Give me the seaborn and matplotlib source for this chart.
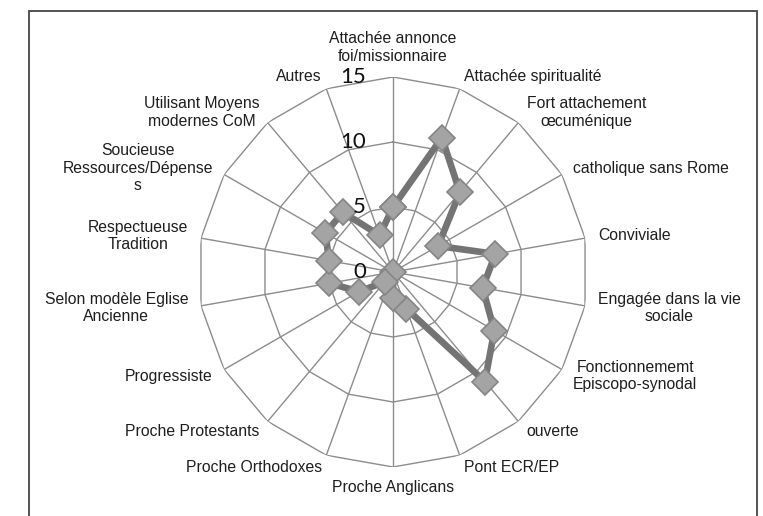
import numpy as np
import matplotlib
matplotlib.use("Agg")
import matplotlib.pyplot as plt
import matplotlib.transforms as mtransforms
from matplotlib.patches import Rectangle
import pandas as pd
import seaborn as sns

categories = [
    "Attachée annonce\nfoi/missionnaire",
    "Attachée spiritualité",
    "Fort attachement\nœcuménique",
    "catholique sans Rome",
    "Conviviale",
    "Engagée dans la vie\nsociale",
    "Fonctionnememt\nEpiscopo-synodal",
    "ouverte",
    "Pont ECR/EP",
    "Proche Anglicans",
    "Proche Orthodoxes",
    "Proche Protestants",
    "Progressiste",
    "Selon modèle Eglise\nAncienne",
    "Respectueuse\nTradition",
    "Soucieuse\nRessources/Dépense\ns",
    "Utilisant Moyens\nmodernes CoM",
    "Autres",
]
values = [5, 11, 8, 4, 8, 7, 9, 11, 3, 2, 0, 1, 3, 5, 5, 6, 6, 3]
r_ticks = [0, 5, 10, 15]

sns.set_style("white")
plt.rcParams["font.family"] = ["Liberation Sans", "DejaVu Sans"]

n = len(categories)
angles = np.linspace(0, 2 * np.pi, n, endpoint=False)
closed_angles = np.append(angles, 2 * np.pi)
df = pd.DataFrame({"angle": closed_angles, "value": values + values[:1]})

W, H = 763, 516
cx, cy, R = 393, 272, 195
fig = plt.figure(figsize=(W / 100, H / 100), dpi=100)
ax = fig.add_axes([(cx - R) / W, (H - cy - R) / H, 2 * R / W, 2 * R / H], projection="polar")
ax.set_theta_zero_location("N")
ax.set_theta_direction(-1)

grid_c = "#8c8c8c"
for a in angles:
    ax.plot([a, a], [0, r_ticks[-1]], color=grid_c, lw=1.0, zorder=1)
for lvl in r_ticks[1:]:
    ax.plot(closed_angles, [lvl] * len(closed_angles), color=grid_c, lw=1.0, zorder=1)

sns.lineplot(data=df, x="angle", y="value", sort=False, estimator=None, ax=ax,
             color="#747474", lw=4.8, marker="D", markersize=13,
             markerfacecolor="#a4a4a4", markeredgecolor="#858585", markeredgewidth=1.2,
             zorder=3)

ax.set_ylim(0, r_ticks[-1])
ax.set_xticks([])
ax.set_yticks([])
ax.grid(False)
ax.spines["polar"].set_visible(False)
ax.set_xlabel("")
ax.set_ylabel("")

# category labels
for a, lab in zip(angles, categories):
    s, c = np.sin(a), np.cos(a)
    if abs(s) < 0.1:
        ha = "center"
        va = "bottom" if c > 0 else "top"
    else:
        ha = "left" if s > 0 else "right"
        va = "center"
    ax.text(a, 16, lab, ha=ha, va=va, multialignment="center",
            fontsize=11.3, color="#1e1e1e", linespacing=1.22)

# radial tick labels
tick_tr = mtransforms.offset_copy(ax.transData, fig=fig, x=-27, y=0, units="dots")
for v in r_ticks:
    ax.text(0, v, str(v), transform=tick_tr, ha="right", va="center",
            fontsize=16, color="#111111", family=["Lato", "DejaVu Sans"])

fig.add_artist(Rectangle((29 / W, -0.05), (757 - 29) / W, (H - 11) / H + 0.05,
                         transform=fig.transFigure, fill=False, ec="#444444", lw=1.3))

fig.savefig("out.png", dpi=100, facecolor="white")
